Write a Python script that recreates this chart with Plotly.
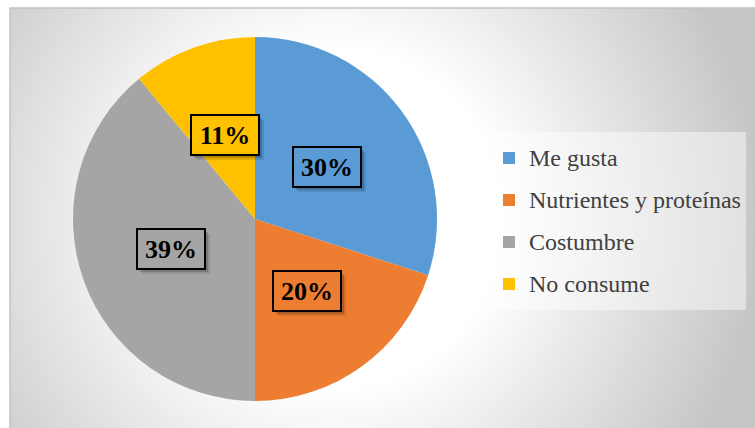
import numpy as np
import plotly.graph_objects as go

# Razones de consumo
categorias = ["Me gusta", "Nutrientes y proteínas", "Costumbre", "No consume"]
porcentajes = [30, 20, 39, 11]
colores = ["#5B9BD5", "#ED7D31", "#A5A5A5", "#FFC000"]

W, H = 755, 428
ML, MT = 10, 8
PW, PH = W - ML, H - MT

# pie placement (fractions of the plot area)
dom_x = [0.0846, 0.5732]
dom_y = [0.0643, 0.9310]

# soft radial backdrop behind the chart
gx = np.arange(ML, W + 1, 5.0)
gy = np.arange(MT, H + 1, 5.0)
XX, YY = np.meshgrid(gx, gy)
dist = np.hypot(XX - 330, YY - 218)
t = np.clip((dist - 170) / 260, 0, 1)
shade = 255 - 57 * t

fig = go.Figure()
fig.add_trace(go.Heatmap(
    x=gx, y=gy, z=shade, zmin=198, zmax=255, zsmooth="best",
    colorscale=[[0, "rgb(198,198,198)"], [1, "rgb(255,255,255)"]],
    showscale=False, hoverinfo="skip",
))

legend_labels = [
    f'<span style="font-size:24px;baseline-shift:4px">{c}</span>' for c in categorias
]
fig.add_trace(go.Pie(
    labels=legend_labels, values=porcentajes, sort=False,
    direction="clockwise", rotation=0,
    marker=dict(colors=colores, line=dict(width=0)),
    textinfo="none", hoverinfo="label+percent",
    domain=dict(x=dom_x, y=dom_y), showlegend=True,
))

# percentage boxes placed along each slice's mid angle
cx = ML + PW * (dom_x[0] + dom_x[1]) / 2
cy = MT + PH * (1 - (dom_y[0] + dom_y[1]) / 2)
R = min(PW * (dom_x[1] - dom_x[0]), PH * (dom_y[1] - dom_y[0])) / 2
total = sum(porcentajes)
acum = 0
annotations = []
for v, col in zip(porcentajes, colores):
    mid = 90 - 360 * (acum + v / 2) / total
    acum += v
    px = cx + 0.49 * R * np.cos(np.radians(mid))
    py = cy - 0.49 * R * np.sin(np.radians(mid))
    xp = (px - ML) / PW
    yp = 1 - (py - MT) / PH
    box = dict(x=xp, y=yp, xref="paper", yref="paper",
               showarrow=False, xanchor="center", yanchor="middle",
               borderwidth=2, borderpad=1, width=64, height=36)
    # soft drop shadow under each box
    for dx, alpha in ((5, 0.10), (3, 0.18)):
        annotations.append(dict(
            box, text="&nbsp;", xshift=dx, yshift=-dx,
            font=dict(family="Liberation Serif", size=26),
            bgcolor=f"rgba(0,0,0,{alpha})", bordercolor="rgba(0,0,0,0)",
        ))
    annotations.append(dict(
        box, text=f"<b>{round(100 * v / total)}%</b>",
        font=dict(family="Liberation Serif", size=26, color="#000000"),
        bgcolor=col, bordercolor="#000000",
    ))

fig.update_layout(
    width=W, height=H,
    margin=dict(l=ML, r=0, t=MT, b=0, pad=0),
    paper_bgcolor="white", plot_bgcolor="rgba(0,0,0,0)",
    xaxis=dict(range=[ML, W], visible=False, fixedrange=True),
    yaxis=dict(range=[H, MT], visible=False, fixedrange=True),
    legend=dict(
        x=(489 - ML) / PW, y=1 - (132 - MT) / PH,
        xanchor="left", yanchor="top",
        font=dict(family="Liberation Serif", size=30, color="#404040"),
        bgcolor="rgba(255,255,255,0.45)", borderwidth=0,
        itemclick=False, itemdoubleclick=False,
    ),
    annotations=annotations,
    shapes=[dict(type="rect", xref="paper", yref="paper", x0=0, x1=1.01,
                 y0=-0.01, y1=1, line=dict(color="#c2c2c2", width=1.5))],
)

fig.write_html("out.html")
